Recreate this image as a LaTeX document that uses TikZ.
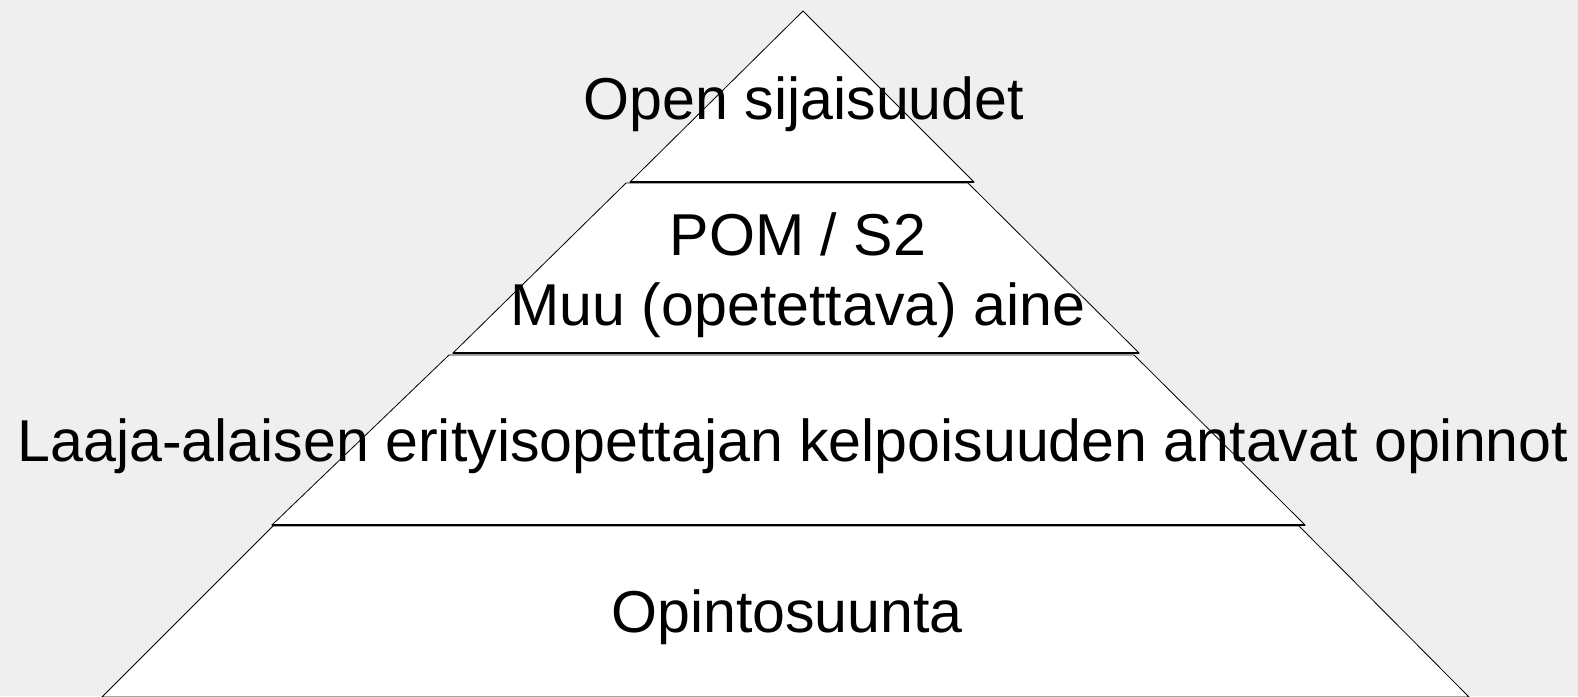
\documentclass[tikz,border=0pt]{standalone}
\usepackage{fontspec}
\setmainfont{Liberation Sans}
\definecolor{bggray}{HTML}{EFEFEF}
\tikzset{
	layer/.style={draw=black, fill=white, line width=0.4pt, line join=miter},
	layerbase/.style={draw=black, line width=1.1pt},
	layertext/.style={anchor=base, inner sep=0pt, font=\fontsize{29.55}{35}\selectfont}
}
\begin{document}
\begin{tikzpicture}[x=0.5pt, y=-0.5pt]
				\fill[bggray] (0,0) rectangle (1578,696);
				\useasboundingbox (0,0) rectangle (1578,696);
				% layers, top to bottom
				\draw[layer] (803,11) -- (974,182) -- (630,182) -- cycle;
				\draw[layerbase] (630,182) -- (974,182);
				\draw[layer] (626,183) -- (968,183) -- (1139,353) -- (453,353) -- cycle;
				\draw[layerbase] (453,353) -- (1139,353);
				\draw[layer] (449,355) -- (1134,355) -- (1305,525) -- (272,525) -- cycle;
				\draw[layerbase] (272,525) -- (1305,525);
				\draw[layer] (273,526) -- (1299,526) -- (1469,697) -- (102,697) -- cycle;
				% texts
				\node[layertext] (top) at (804,119) {Open sijaisuudet};
				\node[layertext] (pom) at (798,255) {POM / S2};
				\node[layertext] (muu) at (798,325) {Muu (opetettava) aine};
				\node[layertext] (laaja) at (793,461) {Laaja-alaisen erityisopettajan kelpoisuuden antavat opinnot};
				\node[layertext] (suunta) at (787,632) {Opintosuunta};
			\end{tikzpicture}
\end{document}
